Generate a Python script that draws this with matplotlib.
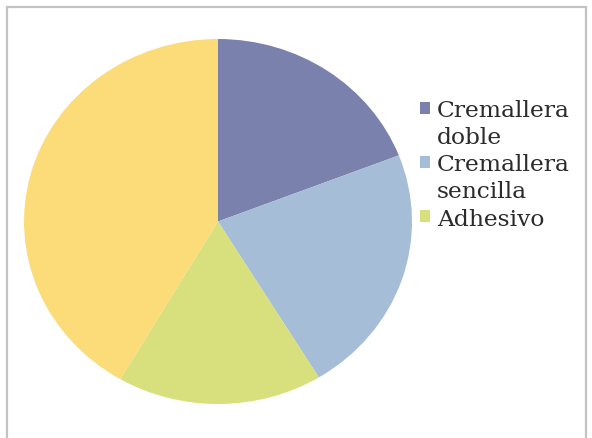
import matplotlib
matplotlib.use('Agg')
import matplotlib.pyplot as plt
from matplotlib.patches import Patch, Rectangle

# Datos del grafico
categorias = ['Cremallera doble', 'Cremallera sencilla', 'Adhesivo', 'Otro']
valores = [19.1, 22.2, 17.1, 41.6]
colores = ['#7b81ad', '#a5bdd6', '#d7e07c', '#fcdc78']
leyenda = categorias[:3]

fig = plt.figure(figsize=(5.92, 4.39), dpi=100)

# Marco gris
marco = Rectangle((7 / 592, -0.05), 579 / 592, 1.05 - 7.5 / 439, transform=fig.transFigure,
                  fill=False, edgecolor='#c3c3c3', linewidth=1.6)
fig.patches.append(marco)

# Pastel (ligeramente estirado horizontalmente como el original)
ax = fig.add_axes([24 / 592, (439 - 405) / 439, 388 / 592, 365 / 439])
ax.pie(valores, colors=colores, startangle=90, counterclock=False,
       wedgeprops={'linewidth': 0})
ax.set_aspect('auto')
ax.set_xlim(-1, 1)
ax.set_ylim(-1, 1)

# Leyenda: la primera linea de cada entrada lleva el cuadro de color
handles = []
labels = []
for nombre, color in zip(leyenda, colores):
    partes = nombre.split(' ', 1)
    handles.append(Patch(facecolor=color, edgecolor='none'))
    labels.append(partes[0])
    if len(partes) > 1:
        handles.append(Patch(facecolor='none', edgecolor='none'))
        labels.append(partes[1])

leg = fig.legend(handles, labels, loc='upper left', bbox_to_anchor=(420 / 592, 1 - 100 / 439),
                 frameon=False, borderpad=0, borderaxespad=0,
                 handlelength=0.42, handleheight=0.42, handletextpad=0.3,
                 labelspacing=0.22,
                 prop={'family': 'DejaVu Serif', 'size': 16.8})
for t in leg.get_texts():
    t.set_color('#2b2b2b')

fig.savefig('out.png', dpi=100)
